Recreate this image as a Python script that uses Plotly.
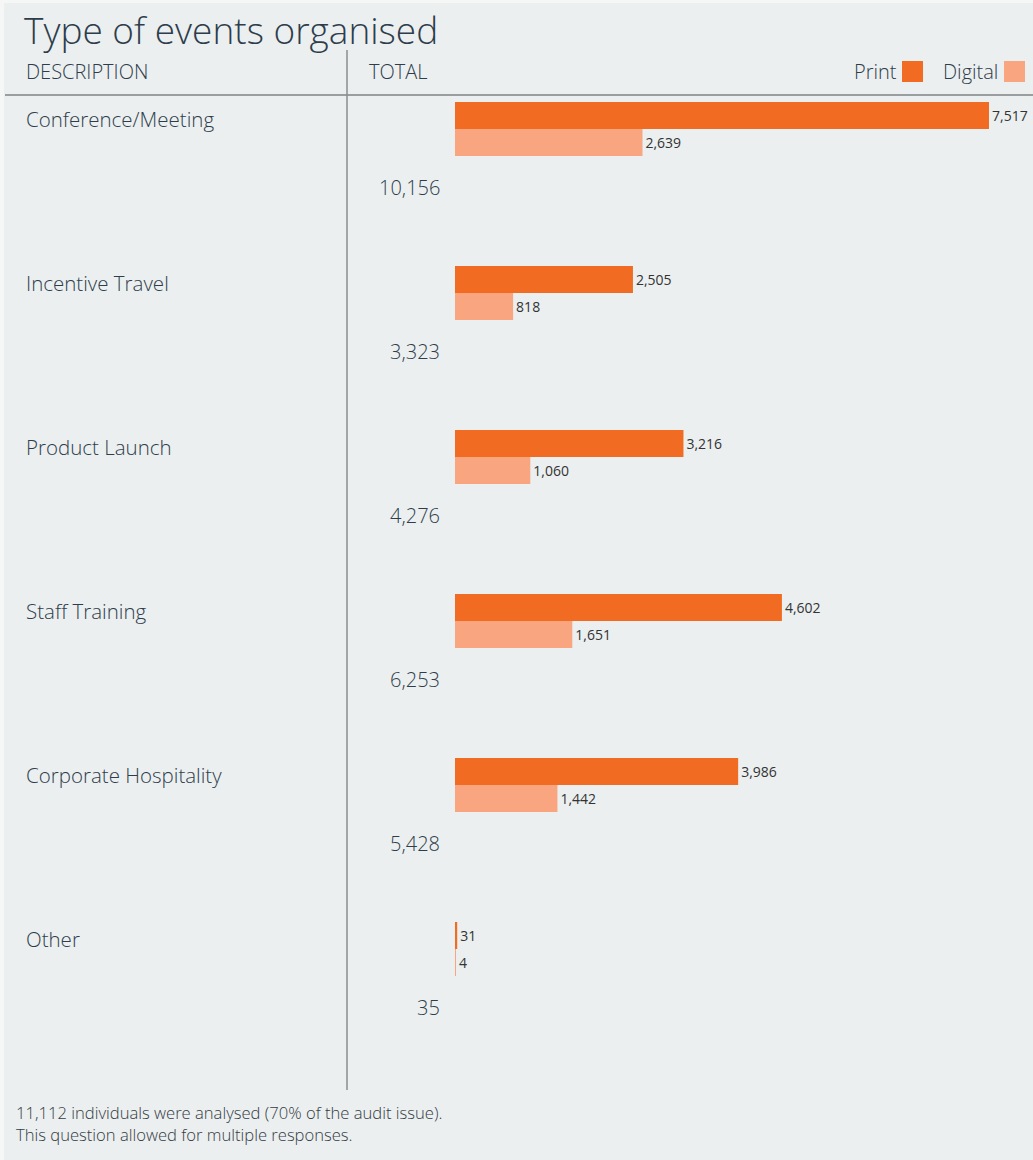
import plotly.graph_objects as go

categories = ["Conference/Meeting", "Incentive Travel", "Product Launch",
              "Staff Training", "Corporate Hospitality", "Other"]
print_vals = [7517, 2505, 3216, 4602, 3986, 31]
digital_vals = [2639, 818, 1060, 1651, 1442, 4]
totals = [10156, 3323, 4276, 6253, 5428, 35]

W, H = 1033, 1160
BG = "#EBEFEF"
TXT = "#2E3D4C"
PRINT_C = "#F26B22"
DIGI_C = "#F9A57F"
FONT = "'Open Sans', 'Noto Sans', sans-serif"
WT = 300

x0_px = 455
scale = 534 / 7517  # px per unit
xmax = (W - x0_px) / scale
row0_px, step = 129, 164
ytop = -row0_px / step
ybot = (H - row0_px) / step

idx = list(range(len(categories)))

fig = go.Figure()
fig.add_trace(go.Bar(
    y=idx, x=print_vals, orientation="h", name="Print",
    marker=dict(color=PRINT_C, line=dict(width=0)),
    text=[f"{v:,}" for v in print_vals], textposition="outside",
    textfont=dict(size=14, color="#333333", family=FONT), cliponaxis=False))
fig.add_trace(go.Bar(
    y=idx, x=digital_vals, orientation="h", name="Digital",
    marker=dict(color=DIGI_C, line=dict(width=0)),
    text=[f"{v:,}" for v in digital_vals], textposition="outside",
    textfont=dict(size=14, color="#333333", family=FONT), cliponaxis=False))

ann = []
shapes = []
for i, (c, t) in enumerate(zip(categories, totals)):
    ann.append(dict(x=24 / W, xref="paper", y=i, yref="y", yshift=10,
                    text=c, showarrow=False, xanchor="left", yanchor="middle",
                    font=dict(size=20.5, color=TXT, family=FONT, weight=WT)))
    ann.append(dict(x=442 / W, xref="paper", y=i, yref="y", yshift=-58,
                    text=f"{t:,}", showarrow=False, xanchor="right", yanchor="middle",
                    font=dict(size=20, color=TXT, family=FONT, weight=WT)))

# title / headers / footnote
ann += [
    dict(x=22 / W, y=1 - 29 / H, xref="paper", yref="paper", text="Type of events organised",
         showarrow=False, xanchor="left", yanchor="middle",
         font=dict(size=37, color=TXT, family=FONT, weight=WT)),
    dict(x=24 / W, y=1 - 71 / H, xref="paper", yref="paper", text="DESCRIPTION",
         showarrow=False, xanchor="left", yanchor="middle",
         font=dict(size=20, color=TXT, family=FONT, weight=WT)),
    dict(x=367 / W, y=1 - 71 / H, xref="paper", yref="paper", text="TOTAL",
         showarrow=False, xanchor="left", yanchor="middle",
         font=dict(size=20, color=TXT, family=FONT, weight=WT)),
    dict(x=899 / W, y=1 - 71 / H, xref="paper", yref="paper", text="Print",
         showarrow=False, xanchor="right", yanchor="middle",
         font=dict(size=20, color=TXT, family=FONT, weight=WT)),
    dict(x=1000 / W, y=1 - 71 / H, xref="paper", yref="paper", text="Digital",
         showarrow=False, xanchor="right", yanchor="middle",
         font=dict(size=20, color=TXT, family=FONT, weight=WT)),
    dict(x=14 / W, y=1 - 1123 / H, xref="paper", yref="paper",
         text="11,112 individuals were analysed (70% of the audit issue).<br>This question allowed for multiple responses.",
         showarrow=False, xanchor="left", yanchor="middle", align="left",
         font=dict(size=16.6, color="#333B44", family=FONT, weight=WT)),
]

def px_rect(x0, y0, x1, y1, **kw):
    return dict(type="rect", xref="paper", yref="paper",
                x0=x0 / W, x1=x1 / W, y0=1 - y0 / H, y1=1 - y1 / H, **kw)

def px_line(x0, y0, x1, y1, **kw):
    return dict(type="line", xref="paper", yref="paper",
                x0=x0 / W, x1=x1 / W, y0=1 - y0 / H, y1=1 - y1 / H, **kw)

shapes += [
    px_rect(0, 0, 4, H, fillcolor="#F5F7F7", line=dict(width=0), layer="below"),
    px_rect(0, 0, W, 3, fillcolor="#F5F7F7", line=dict(width=0), layer="below"),
    px_rect(902, 61, 923, 82, fillcolor=PRINT_C, line=dict(width=0)),
    px_rect(1004, 61, 1025, 82, fillcolor=DIGI_C, line=dict(width=0)),
    px_line(5, 95, W, 95, line=dict(color="#9A9EA0", width=2)),
    px_line(347, 50, 347, 1090, line=dict(color="#8A8E90", width=1.5)),
]

fig.update_layout(
    width=W, height=H, margin=dict(l=0, r=0, t=0, b=0),
    paper_bgcolor=BG, plot_bgcolor="rgba(0,0,0,0)",
    barmode="group", bargap=1 - 54 / 164, bargroupgap=0,
    showlegend=False,
    xaxis=dict(domain=[x0_px / W, 1], range=[0, xmax], visible=False, fixedrange=True),
    yaxis=dict(domain=[0, 1], range=[ybot, ytop], visible=False, fixedrange=True),
    annotations=ann, shapes=shapes,
    uniformtext=dict(mode=False),
)

fig.write_html("out.html")
